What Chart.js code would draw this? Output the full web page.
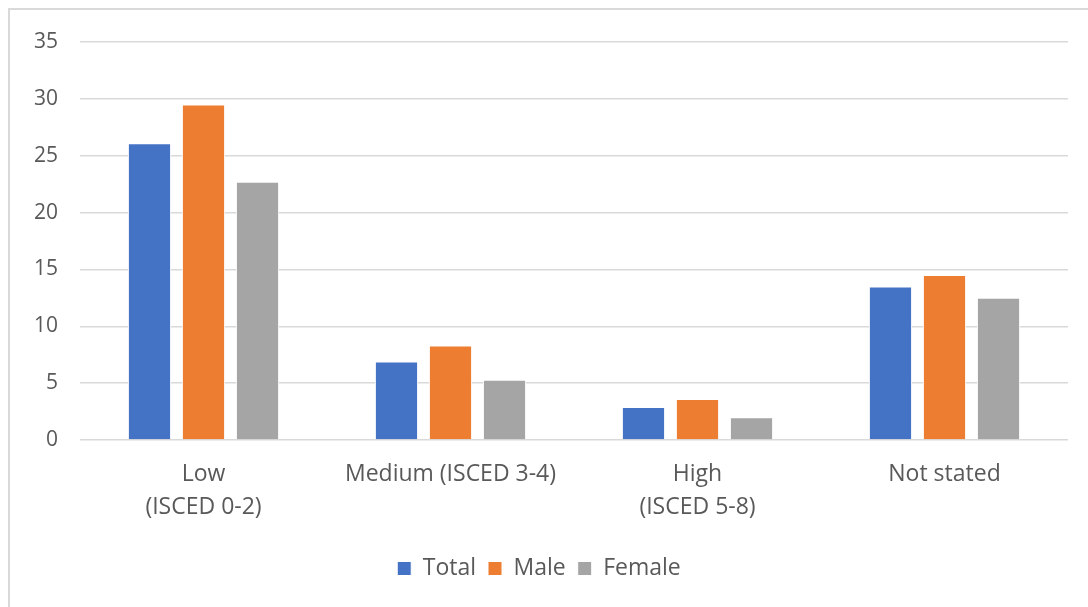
<!DOCTYPE html>
<html lang="en">

<head>
  <script src="https://cdn.jsdelivr.net/npm/chart.js@4.4.0/dist/chart.umd.min.js"></script>
  <title>Education levels</title>
  <style>
    html, body { margin: 0; padding: 0; background: #fff; }
    #wrap { position: relative; width: 1088px; height: 607px; }
    #frame { position: absolute; left: 8px; top: 8px; width: 1200px; height: 700px;
      border-left: 2px solid #d9d9d9; border-top: 2px solid #d9d9d9; box-sizing: border-box; }
  </style>
</head>

<body>
  <div id="wrap">
    <div id="frame"></div>
    <canvas id="myChart" width="1088" height="607"></canvas>
  </div>

  <script>
    var categories = [['Low', '(ISCED 0-2)'], 'Medium (ISCED 3-4)', ['High', '(ISCED 5-8)'], 'Not stated'];
    var total = [26.1, 6.9, 2.9, 13.5];
    var male = [29.5, 8.3, 3.6, 14.5];
    var female = [22.7, 5.3, 2.0, 12.5];
    var yTicks = [0, 5, 10, 15, 20, 25, 30, 35];

    var font = "'Open Sans', 'DejaVu Sans', sans-serif";

    const data = {
      labels: categories,
      datasets: [
        { label: 'Total', data: total, backgroundColor: '#4472C4', borderColor: '#fff', borderWidth: 1 },
        { label: 'Male', data: male, backgroundColor: '#ED7D31', borderColor: '#fff', borderWidth: 1 },
        { label: 'Female', data: female, backgroundColor: '#A5A5A5', borderColor: '#fff', borderWidth: 1 }
      ]
    };

    const config = {
      type: 'bar',
      data: data,
      options: {
        responsive: false,
        animation: false,
        categoryPercentage: 0.656,
        barPercentage: 0.8,
        layout: { padding: { left: 10, right: 20, top: 42, bottom: 17 } },
        plugins: {
          tooltip: { enabled: false },
          legend: {
            position: 'bottom',
            labels: {
              color: '#595959',
              font: { family: font, size: 23 },
              boxWidth: 14,
              boxHeight: 14,
              padding: 12
            }
          }
        },
        scales: {
          x: {
            grid: { display: false },
            border: { display: false },
            ticks: {
              color: '#595959',
              font: { family: font, size: 23, lineHeight: 1.43 },
              padding: 10,
              maxRotation: 0,
              autoSkip: false
            },
            afterFit: function(scale) { scale.height = 105; }
          },
          y: {
            min: 0,
            max: 35,
            afterBuildTicks: function(scale) {
              scale.ticks = yTicks.map(function(v) { return { value: v }; });
            },
            grid: { color: '#d9d9d9', lineWidth: 1.5, drawTicks: false },
            border: { display: false },
            ticks: {
              color: '#595959',
              font: { family: font, size: 21 },
              padding: 22
            },
            afterFit: function(scale) { scale.width = 70; }
          }
        }
      }
    };

    var myChart = new Chart(document.getElementById('myChart'), config);
  </script>
</body>

</html>
